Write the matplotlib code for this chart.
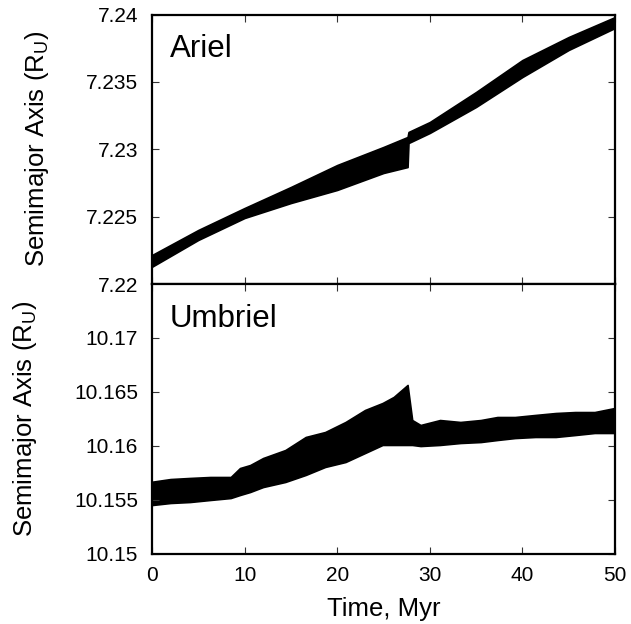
import matplotlib
matplotlib.use("Agg")
import matplotlib.pyplot as plt

plt.rcParams['font.family'] = ['Liberation Sans', 'DejaVu Sans']
plt.rcParams['mathtext.fontset'] = 'custom'
plt.rcParams['mathtext.rm'] = 'Liberation Sans'
plt.rcParams['mathtext.it'] = 'Liberation Sans:italic'

# ---- data (noise band envelope) ----
ariel_time = [0, 5, 10, 15, 20, 25, 27.6, 27.7, 30, 35, 40, 45, 50]
ariel_upper = [7.22215, 7.22401, 7.22564, 7.2272, 7.22883, 7.23017, 7.23091,
               7.23128, 7.23202, 7.23425, 7.23662, 7.23833, 7.23981]
ariel_lower = [7.22128, 7.22327, 7.2249, 7.22601, 7.22698, 7.22824, 7.22868,
               7.23046, 7.23121, 7.23314, 7.23536, 7.23737, 7.239]

umbriel_time = [0, 2, 4.1, 6.3, 8.5, 9.5, 10.6, 12, 14.4, 16.6, 18.7, 20.9, 23,
                24.9, 26.1, 27.6, 28.1, 29, 31.1, 33.3, 35.5, 37.3, 39.2, 41.4,
                43.6, 45.7, 47.8, 50]
umbriel_upper = [10.15667, 10.15692, 10.15702, 10.15711, 10.15711, 10.15794,
                 10.15822, 10.15887, 10.15961, 10.16082, 10.16128, 10.16221,
                 10.16332, 10.16397, 10.16453, 10.16564, 10.16239, 10.16193,
                 10.16239, 10.16221, 10.16239, 10.16267, 10.16267, 10.16286,
                 10.16304, 10.16313, 10.16313, 10.16351]
umbriel_lower = [10.15451, 10.1547, 10.15479, 10.15498, 10.15516, 10.15544,
                 10.15572, 10.15618, 10.15665, 10.1573, 10.15804, 10.1585,
                 10.15933, 10.16008, 10.16008, 10.16008, 10.16008, 10.15998,
                 10.16008, 10.16026, 10.16035, 10.16054, 10.16072, 10.16082,
                 10.16082, 10.161, 10.16119, 10.16119]

x_ticks = [0, 10, 20, 30, 40, 50]
ariel_yticks = [7.22, 7.225, 7.23, 7.235, 7.24]
ariel_yticklabels = ['7.22', '7.225', '7.23', '7.235', '7.24']
umbriel_yticks = [10.15, 10.155, 10.16, 10.165, 10.17]
umbriel_yticklabels = ['10.15', '10.155', '10.16', '10.165', '10.17']

W, H = 631, 624
fig = plt.figure(figsize=(W / 100, H / 100), dpi=100)

left = 152 / W
width = 463 / W
ax1 = fig.add_axes([left, 1 - 284 / H, width, 269.5 / H])
ax2 = fig.add_axes([left, 1 - 553.7 / H, width, 269.7 / H])

ax1.fill_between(ariel_time, ariel_lower, ariel_upper, color='black', lw=1.2,
                 edgecolor='black')
ax2.fill_between(umbriel_time, umbriel_lower, umbriel_upper, color='black',
                 lw=1.2, edgecolor='black')

ax1.set_xlim(0, 50)
ax2.set_xlim(0, 50)
ax1.set_ylim(7.22, 7.24)
ax2.set_ylim(10.15, 10.175)

ax1.set_yticks(ariel_yticks)
ax1.set_yticklabels(ariel_yticklabels)
ax2.set_yticks(umbriel_yticks)
ax2.set_yticklabels(umbriel_yticklabels)
for ax in (ax1, ax2):
    ax.set_xticks(x_ticks)
    ax.tick_params(direction='in', length=5, width=0.8, color='#333333',
                   top=True, right=True, labelsize=15, pad=10)
    for s in ax.spines.values():
        s.set_linewidth(1.6)
ax1.tick_params(labelbottom=False)
ax2.set_xticklabels([str(v) for v in x_ticks])
ax2.tick_params(axis='x', pad=9)

ylabel = 'Semimajor Axis (R$_\\mathrm{U}$)'
fig.text(37 / W, 1 - 149 / H, ylabel, rotation=90, ha='center', va='center',
         fontsize=18.5)
fig.text(25 / W, 1 - 419 / H, ylabel, rotation=90, ha='center', va='center',
         fontsize=18.5)
fig.text(383.5 / W, 1 - 616 / H, 'Time, Myr', ha='center', va='baseline',
         fontsize=18.5)

fig.text(170 / W, 1 - 57 / H, 'Ariel', ha='left', va='baseline', fontsize=22.5)
fig.text(170 / W, 1 - 327 / H, 'Umbriel', ha='left', va='baseline',
         fontsize=22.5)

fig.savefig('out.png', dpi=100)
